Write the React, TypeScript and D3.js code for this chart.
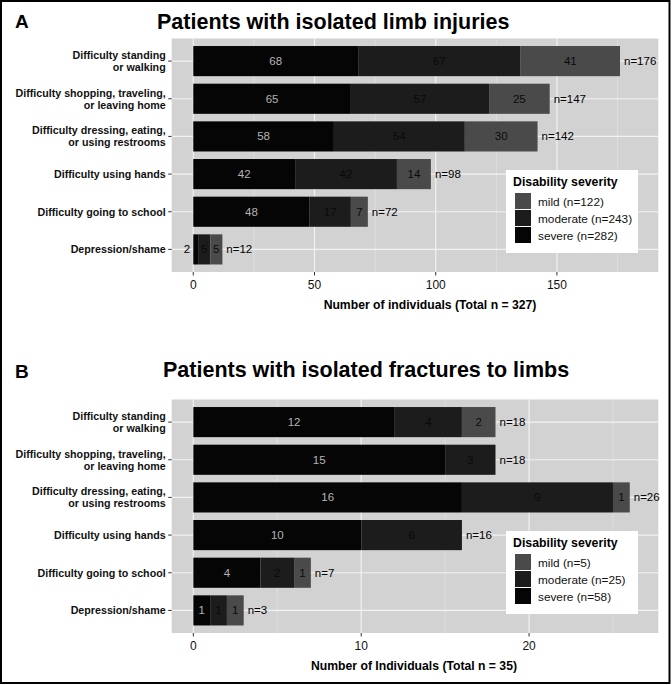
// @ts-nocheck
import React from "react";
import * as d3 from "d3";

// rows, top to bottom
const categories = [
  "Difficulty standing\nor walking",
  "Difficulty shopping, traveling,\nor leaving home",
  "Difficulty dressing, eating,\nor using restrooms",
  "Difficulty using hands",
  "Difficulty going to school",
  "Depression/shame",
];

// panel A: isolated limb injuries
const severeA = [68, 65, 58, 42, 48, 2];
const moderateA = [67, 57, 54, 42, 17, 5];
const mildA = [41, 25, 30, 14, 7, 5];
const ticksA = [0, 50, 100, 150];
const minorA = [25, 75, 125, 175];
const legendA = ["mild (n=122)", "moderate (n=243)", "severe (n=282)"];

// panel B: isolated fractures to limbs
const severeB = [12, 15, 16, 10, 4, 1];
const moderateB = [4, 3, 9, 6, 2, 1];
const mildB = [2, 0, 1, 0, 1, 1];
const ticksB = [0, 10, 20];
const minorB = [5, 15, 25];
const legendB = ["mild (n=5)", "moderate (n=25)", "severe (n=58)"];

const keys = ["severe", "moderate", "mild"];
const fills = { severe: "#050505", moderate: "#1c1c1c", mild: "#4a4a4a" };
const labelFills = { severe: "#b4b4b4", moderate: "#0a0a0a", mild: "#0a0a0a" };

const FONT = "'Liberation Sans', Arial, Helvetica, sans-serif";

function Panel({ dy, letter, title, titleX, severe, moderate, mild, domain, ticks, minor, axisTitle, axisTitleX, legend }) {
  const left = 171.7,
    right = 658.3,
    top = 38.5 + dy,
    bottom = 272 + dy;

  const x = d3.scaleLinear().domain(domain).range([left, right]);
  const y = d3
    .scaleBand()
    .domain(categories)
    .range([top, bottom])
    .paddingInner(0.2)
    .paddingOuter(0.2);

  const rows = categories.map((c, i) => ({
    cat: c,
    severe: severe[i],
    moderate: moderate[i],
    mild: mild[i],
  }));
  const series = d3.stack().keys(keys)(rows);

  const legendTop = 170 + dy;

  return (
    <g>
      <text x={15} y={28 + (dy ? 350 : 0)} fontSize={19} fontWeight="bold" fontFamily={FONT}>
        {letter}
      </text>
      <text x={titleX} y={29 + (dy ? 348 : 0)} fontSize={21.5} fontWeight="bold" fontFamily={FONT}>
        {title}
      </text>

      {/* panel background + grid */}
      <rect x={left} y={top} width={right - left} height={bottom - top} fill="#d2d2d2" />
      {minor.map((t) => (
        <line key={"m" + t} x1={x(t)} x2={x(t)} y1={top} y2={bottom} stroke="#e6e6e6" strokeWidth={0.6} />
      ))}
      {ticks.map((t) => (
        <line key={"t" + t} x1={x(t)} x2={x(t)} y1={top} y2={bottom} stroke="#f2f2f2" strokeWidth={1.2} />
      ))}
      {categories.map((c) => (
        <line
          key={"h" + c}
          x1={left}
          x2={right}
          y1={y(c) + y.bandwidth() / 2}
          y2={y(c) + y.bandwidth() / 2}
          stroke="#f2f2f2"
          strokeWidth={1.2}
        />
      ))}

      {/* bars */}
      {series.map((s) =>
        s.map((d) => (
          <rect
            key={s.key + d.data.cat}
            x={x(d[0])}
            y={y(d.data.cat)}
            width={Math.max(0, x(d[1]) - x(d[0]))}
            height={y.bandwidth()}
            fill={fills[s.key]}
          />
        ))
      )}

      {/* segment labels */}
      {series.map((s) =>
        s.map((d) => {
          const v = d[1] - d[0];
          if (v <= 0) return null;
          const w = x(d[1]) - x(d[0]);
          const cy = y(d.data.cat) + y.bandwidth() / 2 + 4;
          if (w < 8) {
            return (
              <text key={"l" + s.key + d.data.cat} x={x(d[0]) - 3} y={cy} fontSize={11.5} textAnchor="end" fill="#000" fontFamily={FONT}>
                {v}
              </text>
            );
          }
          return (
            <text
              key={"l" + s.key + d.data.cat}
              x={x((d[0] + d[1]) / 2)}
              y={cy}
              fontSize={11.5}
              textAnchor="middle"
              fill={labelFills[s.key]}
              fontFamily={FONT}
            >
              {v}
            </text>
          );
        })
      )}

      {/* totals */}
      {rows.map((r) => {
        const tot = r.severe + r.moderate + r.mild;
        return (
          <text key={"n" + r.cat} x={x(tot) + 4} y={y(r.cat) + y.bandwidth() / 2 + 4} fontSize={11.5} fill="#000" fontFamily={FONT}>
            {"n=" + tot}
          </text>
        );
      })}

      {/* y axis */}
      {categories.map((c) => {
        const cy = y(c) + y.bandwidth() / 2;
        const lines = c.split("\n");
        return (
          <g key={"y" + c}>
            <line x1={left - 3.5} x2={left} y1={cy} y2={cy} stroke="#333" strokeWidth={1} />
            <text textAnchor="end" fontSize={10.7} fontWeight="bold" fontFamily={FONT} fill="#111">
              {lines.map((ln, i) => (
                <tspan key={i} x={left - 6} y={lines.length > 1 ? cy - 2.2 + i * 12 : cy + 3.8}>
                  {ln}
                </tspan>
              ))}
            </text>
          </g>
        );
      })}

      {/* x axis */}
      {ticks.map((t) => (
        <g key={"x" + t}>
          <line x1={x(t)} x2={x(t)} y1={bottom} y2={bottom + 3.5} stroke="#333" strokeWidth={1} />
          <text x={x(t)} y={bottom + 16.5} textAnchor="middle" fontSize={12} fill="#111" fontFamily={FONT}>
            {t}
          </text>
        </g>
      ))}
      <text x={axisTitleX} y={bottom + 37} textAnchor="middle" fontSize={12.2} fontWeight="bold" fontFamily={FONT}>
        {axisTitle}
      </text>

      {/* legend */}
      <rect x={506} y={legendTop} width={132} height={83} fill="#fff" />
      <text x={513} y={legendTop + 15.5} fontSize={12.3} fontWeight="bold" fontFamily={FONT}>
        Disability severity
      </text>
      {["mild", "moderate", "severe"].map((k, i) => (
        <g key={"lg" + k}>
          <rect x={515} y={legendTop + 23 + i * 17} width={16} height={16} fill={fills[k]} />
          <text x={538} y={legendTop + 35.5 + i * 17} fontSize={11.8} fill="#111" fontFamily={FONT}>
            {legend[i]}
          </text>
        </g>
      ))}
    </g>
  );
}

export default function App() {
  return (
    <svg width={672} height={685} style={{ position: "absolute", left: 0, top: 0, background: "#fff" }}>
      <rect x={0} y={0} width={672} height={685} fill="#fff" />
      <Panel
        dy={0}
        letter="A"
        title="Patients with isolated limb injuries"
        titleX={157}
        severe={severeA}
        moderate={moderateA}
        mild={mildA}
        domain={[-8.9, 191.8]}
        ticks={ticksA}
        minor={minorA}
        axisTitle="Number of individuals (Total n = 327)"
        axisTitleX={430}
        legend={legendA}
      />
      <Panel
        dy={361}
        letter="B"
        title="Patients with isolated fractures to limbs"
        titleX={163}
        severe={severeB}
        moderate={moderateB}
        mild={mildB}
        domain={[-1.29, 27.7]}
        ticks={ticksB}
        minor={minorB}
        axisTitle="Number of Individuals (Total n = 35)"
        axisTitleX={414}
        legend={legendB}
      />
      <rect x={1} y={1} width={668.5} height={682} fill="none" stroke="#000" strokeWidth={2} />
    </svg>
  );
}
